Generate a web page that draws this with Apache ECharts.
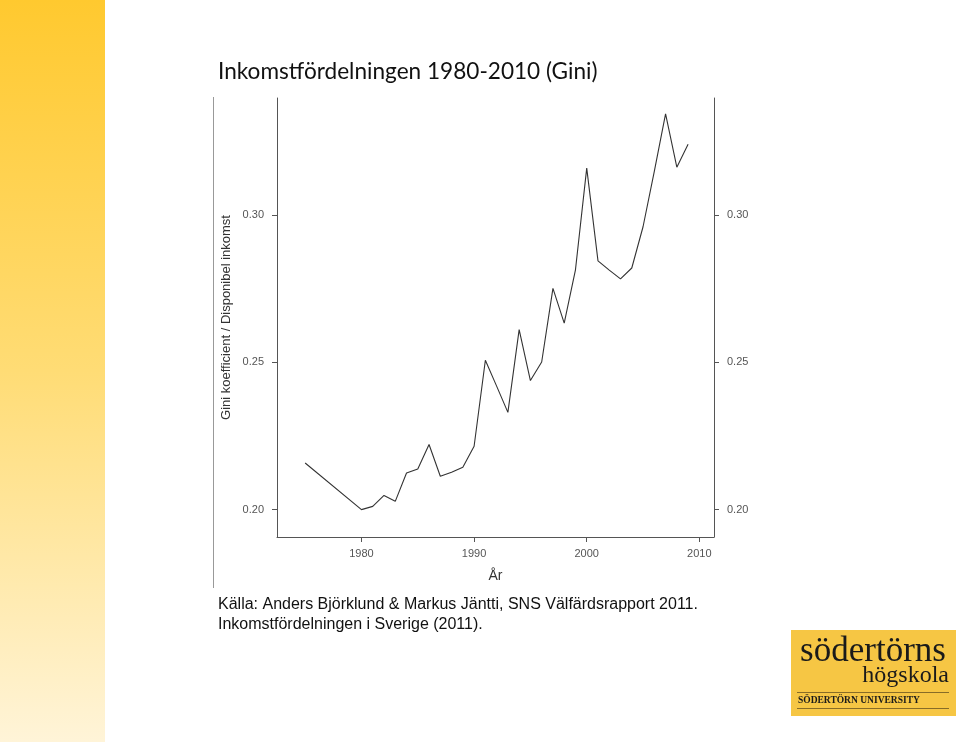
<!DOCTYPE html>
<html>
<head>
<meta charset="utf-8">
<script src="https://cdn.jsdelivr.net/npm/echarts@6/dist/echarts.min.js"></script>
<style>
html,body{margin:0;padding:0;background:#fff;}
#c{width:960px;height:742px;}
</style>
</head>
<body>
<div id="c"></div>
<script>
const years = [1975, 1980, 1981, 1982, 1983, 1984, 1985, 1986, 1987, 1988, 1989, 1990, 1991, 1992, 1993, 1994, 1995, 1996, 1997, 1998, 1999, 2000, 2001, 2002, 2003, 2004, 2005, 2006, 2007, 2008, 2009];
const gini = [0.2158, 0.2000, 0.2011, 0.2048, 0.2028, 0.2124, 0.2138, 0.2221, 0.2113, 0.2127, 0.2144, 0.2215, 0.2507, 0.2419, 0.2330, 0.2611, 0.2438, 0.2501, 0.2751, 0.2633, 0.2814, 0.3159, 0.2844, 0.2813, 0.2783, 0.2820, 0.2960, 0.3148, 0.3343, 0.3162, 0.3240];
const xTicks = [1980, 1990, 2000, 2010];
const yTicks = [0.20, 0.25, 0.30];
const titleText = 'Inkomstfördelningen 1980-2010 (Gini)';
const sourceLines = ['Källa: Anders Björklund & Markus Jäntti, SNS Välfärdsrapport 2011.', 'Inkomstfördelningen i Sverige (2011).'];
const xName = 'År';
const yName = 'Gini koefficient / Disponibel inkomst';

const chart = echarts.init(document.getElementById('c'), null, {renderer: 'canvas'});
const axisCol = '#555';
const yAxisBase = {
  type: 'value', min: 0.1907, max: 0.3397,
  splitLine: {show: false},
  axisLine: {show: true, lineStyle: {color: axisCol, width: 1}},
  axisTick: {show: true, inside: false, length: 5, customValues: yTicks, lineStyle: {color: axisCol}},
  axisLabel: {show: true, customValues: yTicks, color: '#555', fontFamily: 'Liberation Sans', fontSize: 11, margin: 13,
    formatter: v => v.toFixed(2)}
};
chart.setOption({
  animation: false,
  grid: {left: 277, right: 246, top: 98, bottom: 205, containLabel: false},
  xAxis: {
    type: 'value', min: 1972.5, max: 2011.3,
    splitLine: {show: false},
    axisLine: {show: true, onZero: false, lineStyle: {color: axisCol, width: 1}},
    axisTick: {show: true, length: 5, customValues: xTicks, lineStyle: {color: axisCol}},
    axisLabel: {customValues: xTicks, color: '#555', fontFamily: 'Liberation Sans', fontSize: 11, margin: 11,
      formatter: v => String(v)},
    name: xName, nameLocation: 'middle', nameGap: 32,
    nameTextStyle: {color: '#333', fontFamily: 'Liberation Sans', fontSize: 14}
  },
  yAxis: [
    Object.assign({}, yAxisBase, {position: 'left', name: yName, nameLocation: 'middle', nameGap: 44, nameRotate: 90,
      nameTextStyle: {color: '#333', fontFamily: 'Liberation Sans', fontSize: 13}}),
    Object.assign({}, yAxisBase, {position: 'right'})
  ],
  series: [{
    type: 'line', yAxisIndex: 0, data: years.map((y, i) => [y, gini[i]]),
    showSymbol: false, symbol: 'none',
    lineStyle: {color: '#333', width: 1.1}
  }],
  graphic: [
    {type: 'rect', left: 0, top: 0, shape: {x: 0, y: 0, width: 105, height: 742}, silent: true,
      style: {fill: new echarts.graphic.LinearGradient(0, 0, 0, 1, [
        {offset: 0, color: '#ffc92f'}, {offset: 0.5, color: '#ffdc75'}, {offset: 1, color: '#fff4d8'}])}},
    {type: 'line', shape: {x1: 213.5, y1: 97, x2: 213.5, y2: 588}, style: {stroke: '#999', lineWidth: 1}, silent: true},
    {type: 'text', x: 218, y: 60, style: {text: titleText, fill: '#111', font: '22.6px Lato'}},
    {type: 'text', x: 218, y: 597, style: {text: sourceLines[0], fill: '#111', font: '16px "Liberation Sans"'}},
    {type: 'text', x: 218, y: 617, style: {text: sourceLines[1], fill: '#111', font: '16px "Liberation Sans"'}},
    {type: 'rect', shape: {x: 791, y: 630, width: 165, height: 86}, style: {fill: '#f6c644'}, silent: true},
    {type: 'text', x: 873, y: 634, style: {text: 'södertörns', fill: '#1a1a1a', font: '35px "Liberation Serif"', align: 'center'}},
    {type: 'text', x: 949, y: 664, style: {text: 'högskola', fill: '#1a1a1a', font: '24px "Liberation Serif"', align: 'right'}},
    {type: 'line', shape: {x1: 797, y1: 692.5, x2: 949, y2: 692.5}, style: {stroke: '#6b5520', lineWidth: 0.8}},
    {type: 'text', x: 798, y: 696, style: {text: 'SÖDERTÖRN UNIVERSITY', fill: '#1a1a1a', font: 'bold 9.5px "Liberation Serif"'}},
    {type: 'line', shape: {x1: 797, y1: 708.5, x2: 949, y2: 708.5}, style: {stroke: '#6b5520', lineWidth: 0.8}}
  ]
});
</script>
</body>
</html>
